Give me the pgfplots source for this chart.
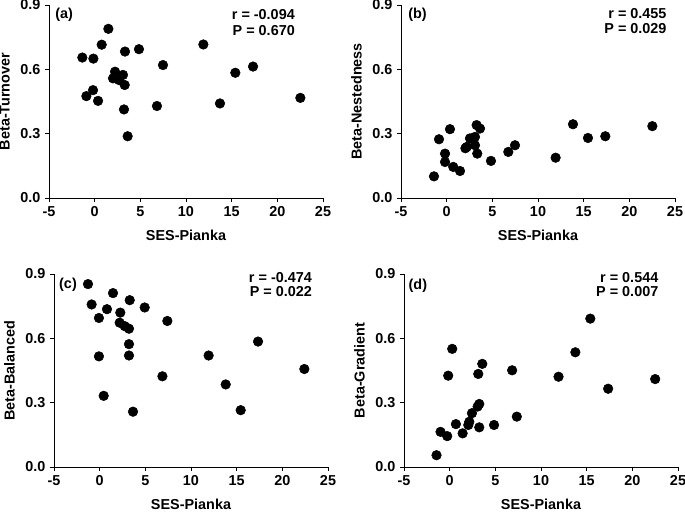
\documentclass[border=0pt]{standalone}
\usepackage{fontspec}
\setmainfont{Liberation Sans}
\usepackage{pgfplots}
\pgfplotsset{compat=1.18}
\pgfplotsset{panel/.style={
 scale only axis, width=205.5pt, height=144.75pt,
 xmin=-5,xmax=25,ymin=0,ymax=0.9,
 axis lines*=left, tick align=outside,
 xtick={-5,0,5,10,15,20,25}, ytick={0,0.3,0.6,0.9},
 major tick length=3pt,
 tick style={black, line width=0.6pt},
 axis line style={black,line width=0.6pt},
 /pgf/number format/assume math mode=true,
 ticklabel style={font=\fontsize{10.8}{12}\selectfont\bfseries},
 yticklabel style={/pgf/number format/.cd,fixed,fixed zerofill,precision=1,/tikz/.cd},
 xlabel={SES-Pianka},
 label style={font=\fontsize{10.8}{12}\selectfont\bfseries},
 xlabel style={yshift=-3pt},
 ylabel style={yshift=1pt},
 clip=false,
}}
\tikzset{dots/.style={only marks, mark=*, mark size=3.6pt, black, mark options={fill=black}}}
\tikzset{txt/.style={font=\fontsize{10.8}{12}\selectfont\bfseries, inner sep=0pt}}
\begin{document}
\begin{tikzpicture}
\useasboundingbox (0,0) rectangle (513.75pt,-384pt);
% (a)
\begin{axis}[panel, at={(36.75pt,-148.5pt)}, anchor=south west, ylabel={Beta-Turnover}]
\addplot[dots] coordinates {(-1.35,0.655) (-0.91,0.475) (-0.18,0.503) (-0.14,0.650) (0.37,0.453) (0.77,0.715) (1.50,0.789) (2.01,0.558) (2.23,0.589) (2.67,0.550) (3.10,0.574) (3.21,0.413) (3.29,0.527) (3.32,0.683) (3.61,0.288) (4.85,0.694) (6.82,0.429) (7.48,0.620) (11.9,0.716) (13.72,0.441) (15.4,0.584) (17.34,0.613) (22.52,0.467)};
\node[txt, anchor=west] at (rel axis cs:0.022,0.948) {(a)};
\node[txt, anchor=east] at (rel axis cs:0.898,0.953) {r = -0.094};
\node[txt, anchor=east] at (rel axis cs:0.898,0.870) {P = 0.670};
\end{axis}
% (b)
\begin{axis}[panel, at={(300.75pt,-148.5pt)}, anchor=south west, ylabel={Beta-Nestedness}]
\addplot[dots] coordinates {(-1.39,0.101) (-0.84,0.274) (-0.18,0.207) (-0.18,0.168) (0.36,0.321) (0.72,0.145) (1.46,0.126) (2.05,0.232) (2.19,0.238) (2.55,0.278) (3.10,0.285) (3.10,0.246) (3.28,0.340) (3.35,0.207) (3.65,0.324) (4.85,0.173) (6.75,0.215) (7.48,0.246) (11.93,0.188) (13.83,0.344) (15.47,0.280) (17.37,0.288) (22.52,0.335)};
\node[txt, anchor=west] at (rel axis cs:0.026,0.948) {(b)};
\node[txt, anchor=east] at (rel axis cs:0.97,0.958) {r = 0.455};
\node[txt, anchor=east] at (rel axis cs:0.97,0.880) {P = 0.029};
\end{axis}
% (c)
\begin{axis}[panel, at={(40.5pt,-350.25pt)}, anchor=south west, ylabel={Beta-Balanced}]
\addplot[dots] coordinates {(-1.28,0.853) (-0.88,0.758) (-0.08,0.695) (-0.08,0.516) (0.44,0.332) (0.80,0.736) (1.46,0.811) (2.19,0.673) (2.26,0.720) (2.74,0.657) (3.21,0.645) (3.21,0.573) (3.21,0.520) (3.29,0.778) (3.65,0.258) (4.93,0.744) (6.87,0.423) (7.41,0.681) (11.93,0.520) (13.80,0.385) (15.44,0.265) (17.34,0.585) (22.41,0.457)};
\node[txt, anchor=west] at (rel axis cs:0.018,0.946) {(c)};
\node[txt, anchor=east] at (rel axis cs:0.942,0.983) {r = -0.474};
\node[txt, anchor=east] at (rel axis cs:0.942,0.911) {P = 0.022};
\end{axis}
% (d)
\begin{axis}[panel, at={(303pt,-350.25pt)}, anchor=south west, ylabel={Beta-Gradient}]
\addplot[dots] coordinates {(-1.44,0.055) (-1.0,0.164) (-0.27,0.144) (-0.16,0.426) (0.28,0.551) (0.68,0.200) (1.42,0.157) (2.04,0.196) (2.15,0.211) (2.44,0.251) (3.06,0.282) (3.24,0.294) (3.13,0.434) (3.24,0.185) (3.57,0.481) (4.86,0.196) (6.84,0.451) (7.35,0.235) (11.92,0.421) (13.76,0.535) (15.4,0.692) (17.35,0.365) (22.5,0.410)};
\node[txt, anchor=west] at (rel axis cs:0.016,0.9375) {(d)};
\node[txt, anchor=east] at (rel axis cs:0.929,0.983) {r = 0.544};
\node[txt, anchor=east] at (rel axis cs:0.929,0.907) {P = 0.007};
\end{axis}
\end{tikzpicture}
\end{document}
